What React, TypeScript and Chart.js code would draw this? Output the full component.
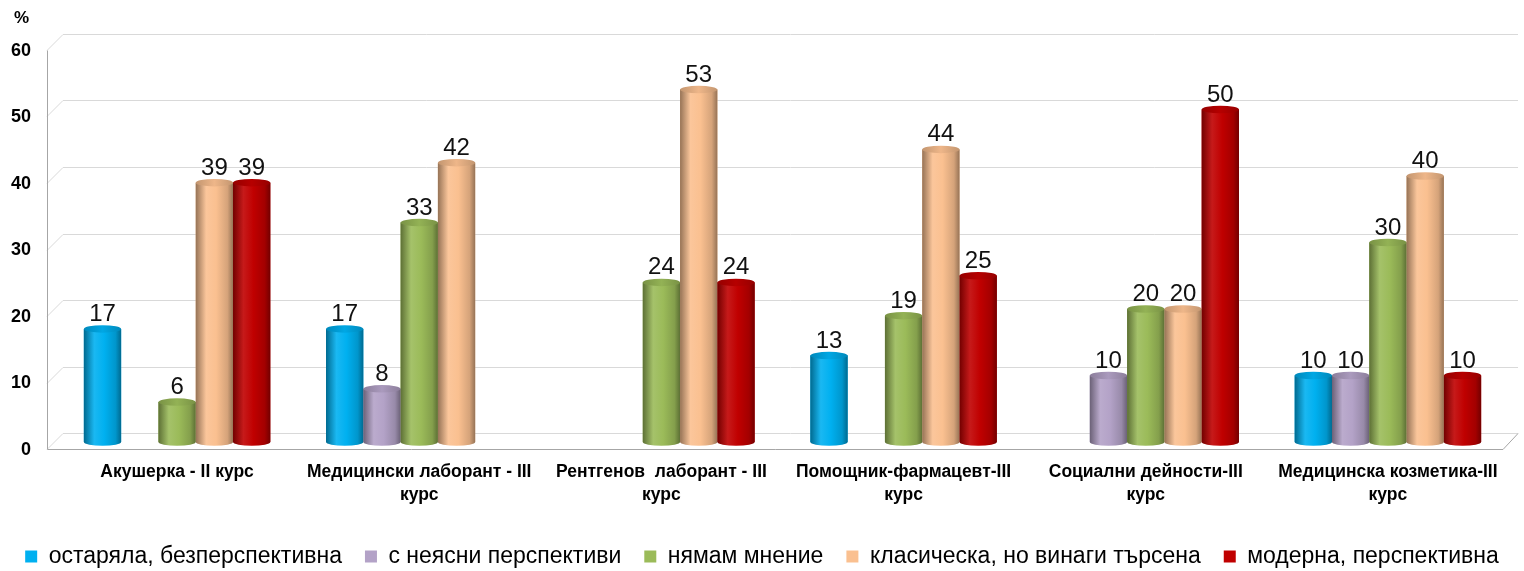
import React, { useEffect, useRef } from 'react';
import { Chart, registerables } from 'chart.js';

Chart.register(...registerables);

const categories: string[][] = [
  ['Акушерка - II курс'],
  ['Медицински лаборант - III', 'курс'],
  ['Рентгенов  лаборант - III', 'курс'],
  ['Помощник-фармацевт-III', 'курс'],
  ['Социални дейности-III', 'курс'],
  ['Медицинска козметика-III', 'курс'],
];

const seriesNames = [
  'остаряла, безперспективна',
  'с неясни перспективи',
  'нямам мнение',
  'класическа, но винаги търсена',
  'модерна, перспективна',
];

const outdated = [17, 17, null, 13, null, 10];
const unclear = [null, 8, null, null, 10, 10];
const noOpinion = [6, 33, 24, 19, 20, 30];
const classic = [39, 42, 53, 44, 20, 40];
const modern = [39, null, 24, 25, 50, 10];

const seriesColors = ['#00B0F0', '#B3A2C7', '#9BBB59', '#FAC090', '#C00000'];
const yTickValues = [0, 10, 20, 30, 40, 50, 60];
const unitLabel = '%';

const SANS = '"Liberation Sans", Arial, sans-serif';

const PAD_LEFT = 0;
const PAD_BOTTOM = -7;
const AREA_TOP = 43;
const AREA_BOTTOM = 442;

function mix(hex: string, target: number, amt: number): string {
  const n = parseInt(hex.slice(1), 16);
  const r = (n >> 16) & 255, g = (n >> 8) & 255, b = n & 255;
  const f = (c: number) => Math.round(c + (target - c) * amt);
  return `rgb(${f(r)},${f(g)},${f(b)})`;
}

const wallPlugin = {
  id: 'wall3d',
  beforeDatasetsDraw(chart: any) {
    const { ctx, chartArea, scales } = chart;
    const y = scales.y;
    const xf = chartArea.left - 9;
    const xb = chartArea.left + 7;
    const xr = chartArea.right + 9;
    ctx.save();
    ctx.lineWidth = 1;
    ctx.strokeStyle = '#D9D9D9';
    yTickValues.forEach((v) => {
      const p = Math.round(y.getPixelForValue(v)) + 0.5;
      ctx.beginPath();
      ctx.moveTo(xf, p + 7);
      ctx.lineTo(xb, p - 9);
      ctx.lineTo(xr, p - 9);
      ctx.stroke();
    });
    const p0 = Math.round(y.getPixelForValue(0)) + 0.5;
    const pTop = Math.round(y.getPixelForValue(60)) + 0.5;
    ctx.strokeStyle = '#A6A6A6';
    ctx.beginPath();
    ctx.moveTo(xf + 0.5, pTop + 7);
    ctx.lineTo(xf + 0.5, p0 + 7);
    ctx.lineTo(chartArea.right - 6, p0 + 7);
    ctx.lineTo(xr, p0 - 9);
    ctx.stroke();
    ctx.restore();
  },
  afterDraw(chart: any) {
    const { ctx } = chart;
    ctx.save();
    ctx.fillStyle = '#000';
    ctx.font = `bold 17px ${SANS}`;
    ctx.textAlign = 'left';
    ctx.textBaseline = 'middle';
    ctx.fillText(unitLabel, 14, 18);
    ctx.restore();
  },
};

const cylinderPlugin = {
  id: 'cylinders',
  afterDatasetsDraw(chart: any) {
    const { ctx } = chart;
    ctx.save();
    chart.data.datasets.forEach((ds: any, di: number) => {
      const meta = chart.getDatasetMeta(di);
      const color = seriesColors[di];
      meta.data.forEach((el: any, i: number) => {
        const v = ds.data[i];
        if (v === null || v === undefined) return;
        const { x, y, base, width } = el.getProps(['x', 'y', 'base', 'width'], true);
        const rx = width / 2;
        const ry = width * 0.1;
        const g = ctx.createLinearGradient(x - rx, 0, x + rx, 0);
        g.addColorStop(0, mix(color, 0, 0.4));
        g.addColorStop(0.28, mix(color, 255, 0.1));
        g.addColorStop(0.55, color);
        g.addColorStop(0.85, mix(color, 0, 0.15));
        g.addColorStop(1, mix(color, 0, 0.4));
        ctx.beginPath();
        ctx.moveTo(x - rx, y);
        ctx.lineTo(x - rx, base);
        ctx.ellipse(x, base, rx, ry, 0, Math.PI, 0, true);
        ctx.lineTo(x + rx, y);
        ctx.closePath();
        ctx.fillStyle = g;
        ctx.fill();
        ctx.beginPath();
        ctx.ellipse(x, y, rx, ry, 0, 0, Math.PI * 2);
        const tg = ctx.createLinearGradient(x - rx, 0, x + rx, 0);
        tg.addColorStop(0, mix(color, 0, 0.22));
        tg.addColorStop(0.5, mix(color, 0, 0.05));
        tg.addColorStop(1, mix(color, 0, 0.22));
        ctx.fillStyle = tg;
        ctx.fill();
        ctx.fillStyle = '#111';
        ctx.font = `24px ${SANS}`;
        ctx.textAlign = 'center';
        ctx.textBaseline = 'alphabetic';
        ctx.fillText(String(v), x, y - 8);
      });
    });
    ctx.restore();
  },
};

export default function App() {
  const ref = useRef<HTMLCanvasElement>(null);
  useEffect(() => {
    const seriesData = [outdated, unclear, noOpinion, classic, modern];
    const chart = new Chart(ref.current as HTMLCanvasElement, {
      type: 'bar',
      data: {
        labels: categories,
        datasets: seriesData.map((d, i) => ({
          label: seriesNames[i],
          data: d,
          backgroundColor: seriesColors[i],
          borderWidth: 0,
          barPercentage: 1,
          categoryPercentage: 0.77,
        })),
      },
      options: {
        animation: false,
        responsive: true,
        maintainAspectRatio: false,
        events: [],
        layout: { padding: { left: PAD_LEFT, right: 0, top: AREA_TOP, bottom: PAD_BOTTOM } },
        plugins: {
          tooltip: { enabled: false },
          title: { display: false },
          legend: {
            position: 'bottom',
            labels: {
              color: '#000',
              font: { family: SANS, size: 23 },
              boxWidth: 12,
              boxHeight: 12,
              padding: 23,
            },
          },
        },
        scales: {
          x: {
            grid: { display: false, drawTicks: false },
            border: { display: false },
            ticks: {
              color: '#000',
              font: { family: SANS, size: 17.5, weight: 'bold', lineHeight: 1.3 },
              padding: 19,
              maxRotation: 0,
              autoSkip: false,
            },
            afterFit: (s: any) => {
              const lh = s.chart.legend ? s.chart.legend.height : 0;
              s.height = 571 - PAD_BOTTOM - lh - AREA_BOTTOM;
            },
          },
          y: {
            min: 0,
            max: 60,
            grid: { display: false, drawTicks: false },
            border: { display: false },
            ticks: {
              stepSize: 10,
              color: '#000',
              font: { family: SANS, size: 18, weight: 'bold' },
              padding: 25,
              labelOffset: 8,
            },
            afterFit: (s: any) => {
              s.width = 56 - PAD_LEFT;
            },
          },
          yRightSpace: {
            position: 'right',
            min: 0,
            max: 60,
            grid: { display: false, drawTicks: false },
            border: { display: false },
            ticks: { display: false },
            afterFit: (s: any) => {
              s.width = 15;
            },
          },
        },
      },
      plugins: [wallPlugin, cylinderPlugin],
    } as any);
    return () => chart.destroy();
  }, []);
  return (
    <div style={{ position: 'absolute', left: 0, top: 0, width: 1524, height: 571, background: '#fff' }}>
      <canvas ref={ref} />
    </div>
  );
}
